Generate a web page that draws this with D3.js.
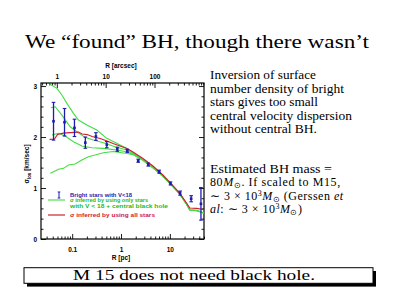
<!DOCTYPE html>
<html><head><meta charset="utf-8">
<script src="https://cdn.jsdelivr.net/npm/d3@7"></script>
<style>html,body{margin:0;padding:0;background:#fff;}svg{display:block;}</style>
</head><body>
<svg id="c" width="400" height="300"></svg>
<script>
// ---- data (R in pc, sigma in km/s) ----
const pointR     = [0.0415,0.0697,0.1114,0.186,0.306,0.511,0.84,1.345,2.25,3.61,6.04,10.3,16.2,27.3,43.3];
const pointSigma = [2.31,2.29,2.18,1.89,2.01,1.85,1.76,1.73,1.535,1.46,1.32,1.09,0.90,0.79,0.69];
const pointErr   = [0.37,0.27,0.17,0.11,0.075,0.06,0.04,0.03,0.03,0.03,0.03,0.03,0.04,0.06,0.32];

const redR     = [0.0344,0.0435,0.0501,0.0655,0.091,0.1345,0.160,0.202,0.256,0.373,0.518,0.687,0.954,1.326,1.758,2.81,4.50,7.20,10.83,16.0,21.9,25.6,35.1,48.3];
const redSigma = [1.955,1.961,2.049,2.078,2.088,2.098,2.059,2.049,2.010,1.971,1.922,1.873,1.824,1.775,1.706,1.578,1.431,1.255,1.078,0.896,0.706,0.608,0.602,0.578];

const green1R     = [0.0344,0.0487,0.0616,0.078,0.1063,0.1345,0.1995,0.319,0.511,0.817,1.207,1.758,2.81,4.50,7.20,10.83,16.0,21.9,25.6,35.6,49.4];
const green1Sigma = [3.039,2.955,2.824,2.661,2.465,2.333,2.235,2.137,1.975,1.876,1.794,1.69,1.56,1.41,1.24,1.062,0.885,0.69,0.572,0.562,0.512];
const green2R     = [0.0367,0.045,0.0616,0.091,0.1247,0.184,0.272,0.435,0.754,1.207,1.758,2.81,4.50,7.20,10.83,16.0,21.9,25.6,35.6,49.4];
const green2Sigma = [2.575,2.594,2.431,2.202,2.104,1.994,1.941,1.888,1.810,1.755,1.675,1.552,1.404,1.236,1.059,0.882,0.686,0.569,0.559,0.510];
const green3R     = [0.0385,0.0525,0.072,0.1063,0.158,0.252,0.435,0.817,1.207,1.758,2.81,4.50,7.20,10.83,16.0,21.9,25.6,35.6,49.4];
const green3Sigma = [2.039,2.073,2.020,1.908,1.824,1.790,1.778,1.745,1.716,1.662,1.545,1.398,1.232,1.056,0.880,0.684,0.567,0.557,0.508];
const green4R     = [0.0356,0.0415,0.0525,0.0664,0.084,0.115,0.158,0.215,0.295,0.435,0.697,0.954,1.326,1.758,2.81,4.50,7.20,10.83,16.0,21.9,25.6,35.6,49.4];
const green4Sigma = [1.288,1.320,1.367,1.386,1.451,1.471,1.549,1.614,1.647,1.692,1.716,1.696,1.676,1.655,1.542,1.396,1.230,1.054,0.878,0.682,0.565,0.555,0.506];

const xMajorTicks = [0.1, 1, 10];
const xTopMajorTicks = [1, 10, 100];
const yMajorTicks = [0, 1, 2, 3];
const pcPerArcsec = 0.04848;

const bodyLines1 = ["Inversion of surface","number density of bright","stars gives too small","central velocity dispersion","without central BH."];

// ---- layout ----
const L = 41, R = 204, T = 83, B = 239;
const svg = d3.select("#c");
const x = d3.scaleLog().domain([0.023, 50]).range([L, R]);
const xt = d3.scaleLog().domain([0.023 / pcPerArcsec, 50 / pcPerArcsec]).range([L, R]);
const y = d3.scaleLinear().domain([0, 3.06]).range([B, T]);

const blue = "#1c1cb0", green = "#44dd44", red = "#d02030";

// Title
svg.append("text").attr("x", 197).attr("y", 48).attr("text-anchor", "middle")
  .attr("font-family", "Liberation Serif, serif").attr("font-size", 18)
  .attr("textLength", 344).attr("lengthAdjust", "spacingAndGlyphs")
  .text("We \u201cfound\u201d BH, though there wasn\u2019t");

// clip
svg.append("clipPath").attr("id", "clip").append("rect")
  .attr("x", L).attr("y", T).attr("width", R - L).attr("height", B - T);

const axFont = "Liberation Sans, Arial, sans-serif";
function styleAxis(g) {
  g.select(".domain").remove();
  g.selectAll("line").attr("stroke", "#000").attr("stroke-width", 0.9);
  g.selectAll("text").attr("font-family", axFont).attr("font-size", 6.5).attr("font-weight", "bold").attr("fill", "#000");
}
const fmt = d => d3.format("~g")(d);

// bottom
const xMinor = x.ticks().filter(d => !xMajorTicks.some(m => Math.abs(m - d) < 1e-9));
svg.append("g").attr("transform", `translate(0,${B})`)
  .call(d3.axisBottom(x).tickValues(xMinor).tickSizeInner(-2.5).tickSizeOuter(0).tickFormat("")).call(styleAxis);
svg.append("g").attr("transform", `translate(0,${B})`)
  .call(d3.axisBottom(x).tickValues(xMajorTicks).tickSizeInner(-5).tickSizeOuter(0).tickPadding(8).tickFormat(fmt)).call(styleAxis);
// top
const xtMinor = xt.ticks().filter(d => !xTopMajorTicks.some(m => Math.abs(m - d) < 1e-9));
svg.append("g").attr("transform", `translate(0,${T})`)
  .call(d3.axisTop(xt).tickValues(xtMinor).tickSizeInner(-2.5).tickSizeOuter(0).tickFormat("")).call(styleAxis);
svg.append("g").attr("transform", `translate(0,${T})`)
  .call(d3.axisTop(xt).tickValues(xTopMajorTicks).tickSizeInner(-5).tickSizeOuter(0).tickPadding(4).tickFormat(fmt)).call(styleAxis);
// left / right
const yMinor = y.ticks(15).filter(d => !yMajorTicks.some(m => Math.abs(m - d) < 1e-9));
svg.append("g").attr("transform", `translate(${L},0)`)
  .call(d3.axisLeft(y).tickValues(yMinor).tickSizeInner(-2.5).tickSizeOuter(0).tickFormat("")).call(styleAxis);
svg.append("g").attr("transform", `translate(${L},0)`)
  .call(d3.axisLeft(y).tickValues(yMajorTicks).tickSizeInner(-5).tickSizeOuter(0).tickPadding(4).tickFormat(fmt)).call(styleAxis);
svg.append("g").attr("transform", `translate(${R},0)`)
  .call(d3.axisRight(y).tickValues(yMinor).tickSizeInner(-2.5).tickSizeOuter(0).tickFormat("")).call(styleAxis);
svg.append("g").attr("transform", `translate(${R},0)`)
  .call(d3.axisRight(y).tickValues(yMajorTicks).tickSizeInner(-5).tickSizeOuter(0).tickFormat("")).call(styleAxis);

// frame
svg.append("rect").attr("x", L).attr("y", T).attr("width", R - L).attr("height", B - T)
  .attr("fill", "none").attr("stroke", "#000").attr("stroke-width", 1.2);

// axis titles
svg.append("text").attr("x", 121).attr("y", 68).attr("text-anchor", "middle")
  .attr("font-family", axFont).attr("font-size", 6.5).attr("font-weight", "bold").text("R [arcsec]");
svg.append("text").attr("x", 121).attr("y", 260).attr("text-anchor", "middle")
  .attr("font-family", axFont).attr("font-size", 6.5).attr("font-weight", "bold").text("R [pc]");
const yl = svg.append("text").attr("transform", "translate(29,164) rotate(-90)").attr("text-anchor", "middle")
  .attr("font-family", axFont).attr("font-size", 6.5).attr("font-weight", "bold");
yl.append("tspan").text("\u03c3");
yl.append("tspan").attr("font-size", 4.5).attr("dy", 1.5).text("los");
yl.append("tspan").attr("dy", -1.5).text(" [km/sec]");

// lines
const plot = svg.append("g").attr("clip-path", "url(#clip)");
const line = d3.line().x(d => x(d[0])).y(d => y(d[1]));
const greens = [[green1R, green1Sigma], [green2R, green2Sigma], [green3R, green3Sigma], [green4R, green4Sigma]];
greens.forEach(([rs, ss]) => {
  plot.append("path").attr("d", line(rs.map((r, i) => [r, ss[i]])))
    .attr("fill", "none").attr("stroke", green).attr("stroke-width", 1.1);
});
plot.append("path").attr("d", line(redR.map((r, i) => [r, redSigma[i]])))
  .attr("fill", "none").attr("stroke", red).attr("stroke-width", 1.2);

// error bars
const pts = pointR.map((r, i) => ({ r, s: pointSigma[i], e: pointErr[i] }));
const eb = plot.selectAll("g.eb").data(pts).join("g").attr("class", "eb");
eb.append("line").attr("x1", d => x(d.r)).attr("x2", d => x(d.r))
  .attr("y1", d => y(d.s - d.e)).attr("y2", d => y(d.s + d.e)).attr("stroke", blue).attr("stroke-width", 1.3);
eb.append("line").attr("x1", d => x(d.r) - 1.8).attr("x2", d => x(d.r) + 1.8)
  .attr("y1", d => y(d.s - d.e)).attr("y2", d => y(d.s - d.e)).attr("stroke", blue).attr("stroke-width", 1.1);
eb.append("line").attr("x1", d => x(d.r) - 1.8).attr("x2", d => x(d.r) + 1.8)
  .attr("y1", d => y(d.s + d.e)).attr("y2", d => y(d.s + d.e)).attr("stroke", blue).attr("stroke-width", 1.1);
eb.append("rect").attr("x", d => x(d.r) - 1.3).attr("y", d => y(d.s) - 1.3)
  .attr("width", 2.6).attr("height", 2.6).attr("fill", blue);

// legend
const lg = svg.append("g").attr("font-family", axFont).attr("font-size", 5.5).attr("font-weight", "bold");
lg.append("line").attr("x1", 59).attr("x2", 59).attr("y1", 192).attr("y2", 198).attr("stroke", blue).attr("stroke-width", 1);
lg.append("line").attr("x1", 57.7).attr("x2", 60.3).attr("y1", 192).attr("y2", 192).attr("stroke", blue).attr("stroke-width", 1);
lg.append("line").attr("x1", 57.7).attr("x2", 60.3).attr("y1", 198).attr("y2", 198).attr("stroke", blue).attr("stroke-width", 1);
lg.append("text").attr("x", 70).attr("y", 197).attr("fill", blue).attr("textLength", 62).attr("lengthAdjust", "spacingAndGlyphs").text("Bright stars with V<18");
lg.append("line").attr("x1", 48).attr("x2", 65).attr("y1", 200).attr("y2", 200).attr("stroke", green).attr("stroke-width", 1.1);
lg.append("text").attr("x", 70).attr("y", 201.5).attr("fill", "#22bb22").attr("textLength", 78).attr("lengthAdjust", "spacingAndGlyphs").text("\u03c3 inferred by using only stars");
lg.append("text").attr("x", 70).attr("y", 208).attr("fill", "#22bb22").attr("textLength", 98).attr("lengthAdjust", "spacingAndGlyphs").text("with V < 18 + central black hole");
lg.append("line").attr("x1", 48).attr("x2", 65).attr("y1", 215).attr("y2", 215).attr("stroke", red).attr("stroke-width", 1.2);
lg.append("text").attr("x", 70).attr("y", 217).attr("fill", red).attr("textLength", 85).attr("lengthAdjust", "spacingAndGlyphs").text("\u03c3 inferred by using all stars");

// right text
const serif = "Liberation Serif, serif";
const base1 = [79, 92.5, 106, 119.5, 133];
const widths1 = [106, 134, 108, 142, 107];
bodyLines1.forEach((t, i) => {
  svg.append("text").attr("x", 210).attr("y", base1[i]).attr("font-family", serif).attr("font-size", 12)
    .attr("textLength", widths1[i]).attr("lengthAdjust", "spacingAndGlyphs").text(t);
});
svg.append("text").attr("x", 210).attr("y", 172.5).attr("font-family", serif).attr("font-size", 12)
  .attr("textLength", 122).attr("lengthAdjust", "spacingAndGlyphs").text("Estimated BH mass =");

const p2 = svg.append("text").attr("x", 210).attr("y", 186).attr("font-family", serif).attr("font-size", 12)
  .attr("letter-spacing", 0.6);
p2.append("tspan").text("80");
p2.append("tspan").attr("font-style", "italic").text("M");
p2.append("tspan").attr("font-size", 8).attr("dy", 2).text("\u2299");
p2.append("tspan").attr("dy", -2).text(". If scaled to M15,");

const p3 = svg.append("text").attr("x", 210).attr("y", 199.5).attr("font-family", serif).attr("font-size", 12)
  .attr("letter-spacing", 0.5);
p3.append("tspan").text("\u223c 3 \u00d7 10");
p3.append("tspan").attr("font-size", 8).attr("dy", -4).text("3");
p3.append("tspan").attr("font-style", "italic").attr("dy", 4).text("M");
p3.append("tspan").attr("font-size", 8).attr("dy", 2).text("\u2299");
p3.append("tspan").attr("dy", -2).text(" (Gerssen ");
p3.append("tspan").attr("font-style", "italic").text("et");

const p4 = svg.append("text").attr("x", 210).attr("y", 213).attr("font-family", serif).attr("font-size", 12)
  .attr("letter-spacing", 0.5);
p4.append("tspan").attr("font-style", "italic").text("al");
p4.append("tspan").text(": \u223c 3 \u00d7 10");
p4.append("tspan").attr("font-size", 8).attr("dy", -4).text("3");
p4.append("tspan").attr("font-style", "italic").attr("dy", 4).text("M");
p4.append("tspan").attr("font-size", 8).attr("dy", 2).text("\u2299");
p4.append("tspan").attr("dy", -2).text(")");

// bottom box
svg.append("rect").attr("x", 27).attr("y", 271).attr("width", 349).attr("height", 15.6).attr("fill", "#000");
svg.append("rect").attr("x", 24).attr("y", 267.7).attr("width", 349).attr("height", 15.6)
  .attr("fill", "#fff").attr("stroke", "#000").attr("stroke-width", 1);
svg.append("text").attr("x", 194).attr("y", 280).attr("text-anchor", "middle")
  .attr("font-family", serif).attr("font-size", 15)
  .attr("textLength", 242).attr("lengthAdjust", "spacingAndGlyphs").text("M 15 does not need black hole.");
</script>
</body></html>
